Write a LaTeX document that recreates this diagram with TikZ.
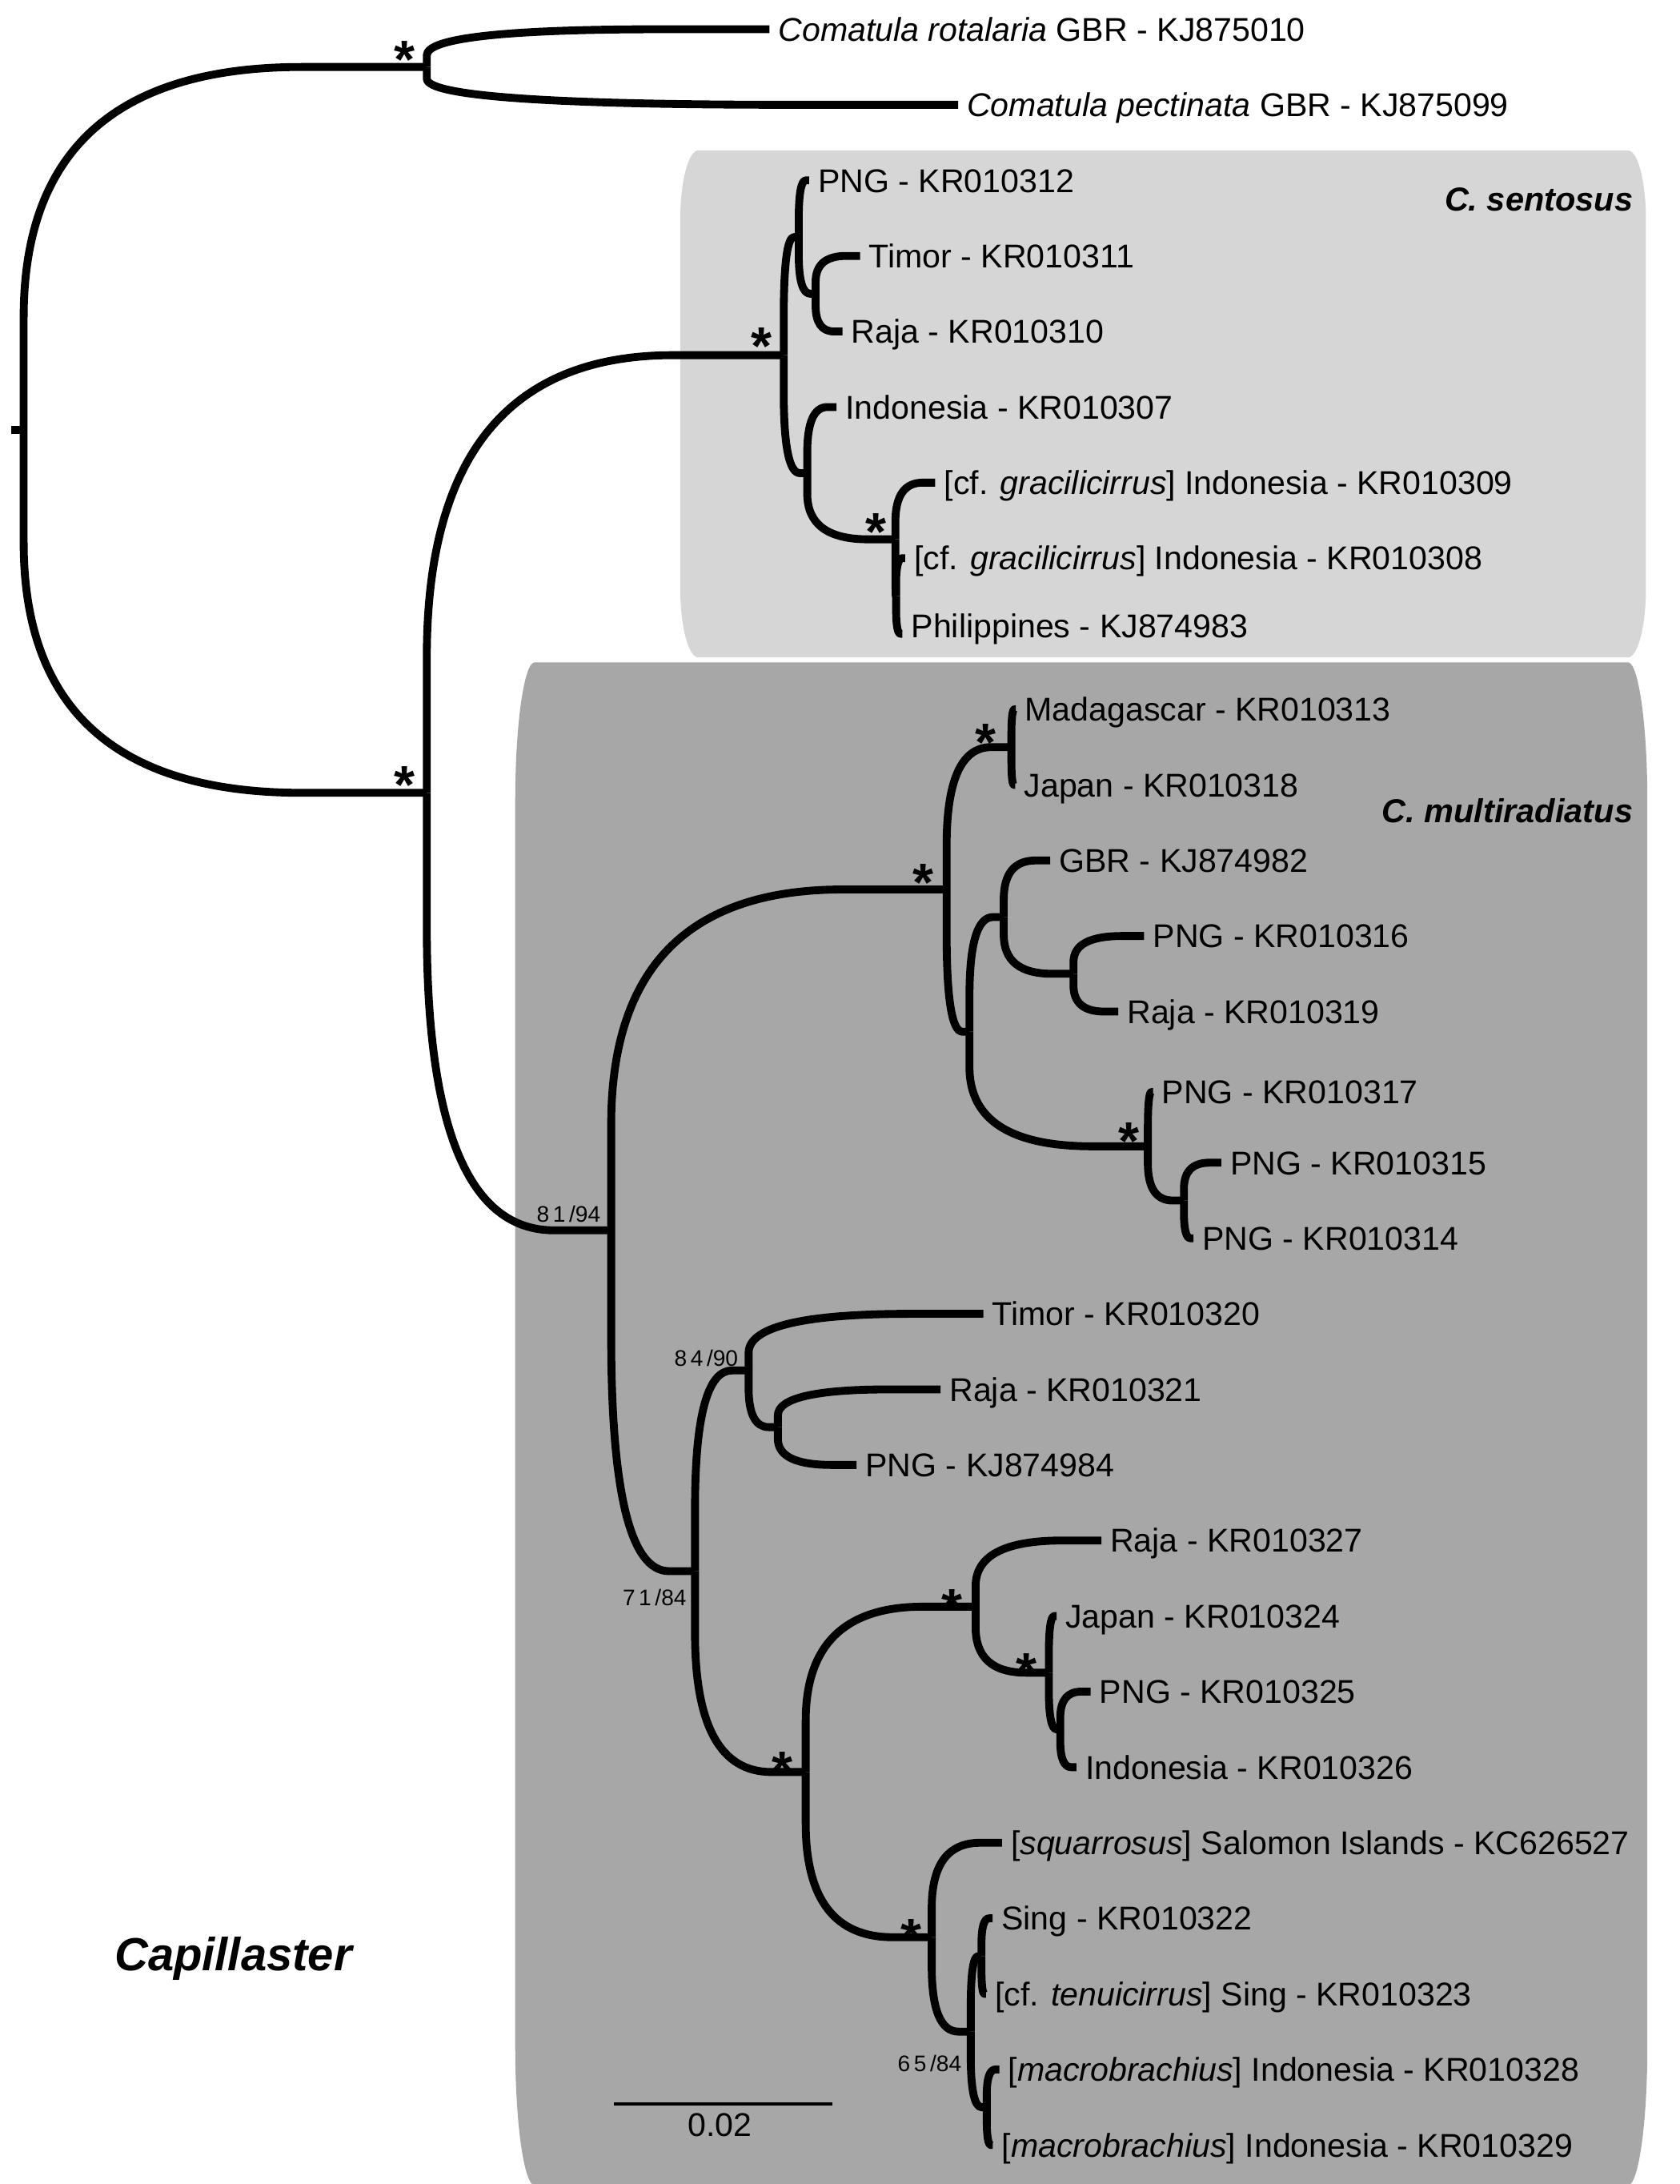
\documentclass[tikz,border=0pt]{standalone}
\usepackage{fontspec}
\setmainfont{Liberation Sans}
\usetikzlibrary{calc, positioning}

\definecolor{lightclade}{gray}{0.84}
\definecolor{darkclade}{gray}{0.655}

% curved branch from a parent to a child (straight, bend, straight)
\newcommand{\branch}[2]{%
  \draw[branch] (#1) -- ($(#1)!0.31!(#1|-#2)$)
    .. controls ($(#1)!0.77!(#1|-#2)$) and ($(#1|-#2)!0.23!(#2)$) ..
    ($(#1|-#2)!0.69!(#2)$) -- (#2);}

\begin{document}
\begin{tikzpicture}[
    x=0.17396mm, y=-0.17396mm,
    branch/.style={line width=2.8pt, line cap=butt, line join=round},
    taxon/.style={font=\fontsize{11.7}{14}\selectfont, inner sep=0pt, text height=8.4pt, text depth=0pt},
    aster/.style={font=\fontsize{19}{19}\selectfont\bfseries, inner sep=0pt, text height=21.8pt, text depth=0pt},
    supp/.style={font=\fontsize{8}{9}\selectfont, inner sep=0pt, text height=5.7pt, text depth=0pt, anchor=east},
    clade/.style={font=\fontsize{11.8}{14}\selectfont\bfseries\itshape, inner sep=0pt, text height=8.4pt, text depth=0pt, anchor=east},
    scalebar/.style={line width=1.15pt}
]
\useasboundingbox (0,0) rectangle (1206,1568);

% Clade boxes
\fill[lightclade] (488.5,158) .. controls (488.5,130.4) and (494.3,108) .. (501.5,108)
  -- (1169,108) .. controls (1176.2,108) and (1182,130.4) .. (1182,158)
  -- (1182,422) .. controls (1182,449.6) and (1176.2,472) .. (1169,472)
  -- (501.5,472) .. controls (494.3,472) and (488.5,449.6) .. (488.5,422) -- cycle;
\fill[darkclade] (370,575.5) .. controls (370,520.3) and (376.3,475.5) .. (384,475.5)
  -- (1169,475.5) .. controls (1176.7,475.5) and (1183,520.3) .. (1183,575.5)
  -- (1183,1469) .. controls (1183,1524.2) and (1176.7,1569) .. (1169,1569)
  -- (384,1569) .. controls (376.3,1569) and (370,1524.2) .. (370,1469) -- cycle;

% Internal nodes
\coordinate (rootstub) at (8,308.6);
\coordinate (root) at (17,308.6);
\coordinate (A) at (306.5,48.1);
\coordinate (B) at (306.5,569.2);
\coordinate (S) at (562.8,255);
\coordinate (S1) at (573.6,170.2);
\coordinate (S1a) at (585.7,210.9);
\coordinate (S2) at (579.7,339.7);
\coordinate (S2a) at (643,387.2);
\coordinate (S2b) at (643.5,427.9);
\coordinate (M) at (438.9,883.3);
\coordinate (M1) at (679.8,638.6);
\coordinate (M1a) at (726.3,536.4);
\coordinate (M1b) at (696.2,740.7);
\coordinate (M1c) at (720.8,658.4);
\coordinate (M1d) at (770.9,699.1);
\coordinate (M1e) at (824.3,823);
\coordinate (M1f) at (850.2,861.9);
\coordinate (M2) at (499.1,1128);
\coordinate (M2a) at (537.6,983.9);
\coordinate (M2c) at (558.6,1024.6);
\coordinate (M2b) at (578.6,1272.2);
\coordinate (M2b1) at (700.6,1153.5);
\coordinate (M2d) at (753.2,1200.9);
\coordinate (M2e) at (761.4,1241.6);
\coordinate (M2b2) at (669.1,1390.8);
\coordinate (M2f) at (697.1,1458.6);
\coordinate (M2g) at (704.8,1404.4);
\coordinate (M2h) at (708.6,1512.9);

% Tips
\coordinate (trot) at (552.5,21);
\coordinate (tpec) at (688,75.25);
\coordinate (t312) at (581,129.5);
\coordinate (t311) at (617.6,183.75);
\coordinate (t310) at (605,238);
\coordinate (t307) at (600.7,292.25);
\coordinate (t309) at (671.6,346.5);
\coordinate (t308) at (650,400.75);
\coordinate (tphi) at (648,455);
\coordinate (t313) at (729.5,509.25);
\coordinate (t318) at (729,563.5);
\coordinate (tgbr) at (754.2,617.75);
\coordinate (t316) at (821.6,672);
\coordinate (t319) at (803,726.25);
\coordinate (t317) at (828,784);
\coordinate (t315) at (877,834.75);
\coordinate (t314) at (857,889);
\coordinate (t320) at (706.2,943.25);
\coordinate (t321) at (675.4,997.5);
\coordinate (t984) at (615.1,1051.75);
\coordinate (t327) at (790.9,1106);
\coordinate (t324) at (758.8,1160.25);
\coordinate (t325) at (783.2,1214.5);
\coordinate (t326) at (773,1268.75);
\coordinate (tsq) at (719.5,1323);
\coordinate (t322) at (712.8,1377.25);
\coordinate (t323) at (708,1431.5);
\coordinate (t328) at (717.6,1485.75);
\coordinate (t329) at (713,1540);

% Branches
\draw[branch] (rootstub) -- (root);
\branch{root}{A} \branch{root}{B}
\branch{A}{trot} \branch{A}{tpec}
\branch{B}{S} \branch{B}{M}
\branch{S}{S1} \branch{S}{S2}
\branch{S1}{t312} \branch{S1}{S1a}
\branch{S1a}{t311} \branch{S1a}{t310}
\branch{S2}{t307} \branch{S2}{S2a}
\branch{S2a}{t309} \branch{S2a}{S2b}
\branch{S2b}{t308} \branch{S2b}{tphi}
\branch{M}{M1} \branch{M}{M2}
\branch{M1}{M1a} \branch{M1}{M1b}
\branch{M1a}{t313} \branch{M1a}{t318}
\branch{M1b}{M1c} \branch{M1b}{M1e}
\branch{M1c}{tgbr} \branch{M1c}{M1d}
\branch{M1d}{t316} \branch{M1d}{t319}
\branch{M1e}{t317} \branch{M1e}{M1f}
\branch{M1f}{t315} \branch{M1f}{t314}
\branch{M2}{M2a} \branch{M2}{M2b}
\branch{M2a}{t320} \branch{M2a}{M2c}
\branch{M2c}{t321} \branch{M2c}{t984}
\branch{M2b}{M2b1} \branch{M2b}{M2b2}
\branch{M2b1}{t327} \branch{M2b1}{M2d}
\branch{M2d}{t324} \branch{M2d}{M2e}
\branch{M2e}{t325} \branch{M2e}{t326}
\branch{M2b2}{tsq} \branch{M2b2}{M2f}
\branch{M2f}{M2g} \branch{M2f}{M2h}
\branch{M2g}{t322} \branch{M2g}{t323}
\branch{M2h}{t328} \branch{M2h}{t329}

% Tip labels
\node[taxon, right=3pt of trot] (lrot) {\textit{Comatula rotalaria} GBR - KJ875010};
\node[taxon, right=3pt of tpec] (lpec) {\textit{Comatula pectinata} GBR - KJ875099};
\node[taxon, right=3pt of t312] (l312) {PNG - KR010312};
\node[taxon, right=3pt of t311] (l311) {Timor - KR010311};
\node[taxon, right=3pt of t310] (l310) {Raja - KR010310};
\node[taxon, right=3pt of t307] (l307) {Indonesia - KR010307};
\node[taxon, right=3pt of t309] (l309) {[cf. \textit{gracilicirrus}] Indonesia - KR010309};
\node[taxon, right=3pt of t308] (l308) {[cf. \textit{gracilicirrus}] Indonesia - KR010308};
\node[taxon, right=3pt of tphi, yshift=1mm] (lphi) {Philippines - KJ874983};
\node[taxon, right=3pt of t313] (l313) {Madagascar - KR010313};
\node[taxon, right=3pt of t318] (l318) {Japan - KR010318};
\node[taxon, right=3pt of tgbr] (lgbr) {GBR - KJ874982};
\node[taxon, right=3pt of t316] (l316) {PNG - KR010316};
\node[taxon, right=3pt of t319] (l319) {Raja - KR010319};
\node[taxon, right=3pt of t317] (l317) {PNG - KR010317};
\node[taxon, right=3pt of t315] (l315) {PNG - KR010315};
\node[taxon, right=3pt of t314] (l314) {PNG - KR010314};
\node[taxon, right=3pt of t320] (l320) {Timor - KR010320};
\node[taxon, right=3pt of t321] (l321) {Raja - KR010321};
\node[taxon, right=3pt of t984] (l984) {PNG - KJ874984};
\node[taxon, right=3pt of t327] (l327) {Raja - KR010327};
\node[taxon, right=3pt of t324] (l324) {Japan - KR010324};
\node[taxon, right=3pt of t325] (l325) {PNG - KR010325};
\node[taxon, right=3pt of t326] (l326) {Indonesia - KR010326};
\node[taxon, right=3pt of tsq] (lsq) {[\textit{squarrosus}] Salomon Islands - KC626527};
\node[taxon, right=3pt of t322] (l322) {Sing - KR010322};
\node[taxon, right=3pt of t323] (l323) {[cf. \textit{tenuicirrus}] Sing - KR010323};
\node[taxon, right=3pt of t328] (l328) {[\textit{macrobrachius}] Indonesia - KR010328};
\node[taxon, right=3pt of t329] (l329) {[\textit{macrobrachius}] Indonesia - KR010329};

% Support: asterisks and values
\node[aster] (sA) at (290.3,34.3) {*};
\node[aster] (sB) at (290.3,554.5) {*};
\node[aster] (sS) at (547,240) {*};
\node[aster] (sS2a) at (628.8,373.2) {*};
\node[aster] (sM1) at (663,625) {*};
\node[aster] (sM1a) at (708,524.3) {*};
\node[aster] (sM1e) at (810.5,810.5) {*};
\node[aster] (sM2b) at (561.6,1262.4) {*};
\node[aster] (sM2b1) at (683.8,1145.7) {*};
\node[aster] (sM2d) at (737,1191.8) {*};
\node[aster] (sM2b2) at (654.4,1382.5) {*};
\node[supp] (vM) at (431.6,871.5) {8\kern1.3pt1\kern1.3pt/94};
\node[supp] (vM2a) at (530.4,975) {8\kern1.3pt4\kern1.3pt/90};
\node[supp] (vM2) at (493.3,1146.8) {7\kern1.3pt1\kern1.3pt/84};
\node[supp] (vM2f) at (690.8,1481.2) {6\kern1.3pt5\kern1.3pt/84};

% Clade names
\node[clade] (csent) at (1173,143) {C. sentosus};
\node[clade] (cmult) at (1173,582) {C. multiradiatus};
\node[font=\fontsize{16.5}{18}\selectfont\bfseries\itshape, inner sep=0pt, text height=11.8pt, text depth=0pt] (genus) at (167.5,1403) {Capillaster};

% Scale bar
\coordinate (sb1) at (441,1510.5);
\coordinate (sb2) at (597.8,1510.5);
\draw[scalebar] (sb1) -- (sb2);
\node[taxon] (sblab) at (517,1525.5) {0.02};

\end{tikzpicture}
\end{document}
